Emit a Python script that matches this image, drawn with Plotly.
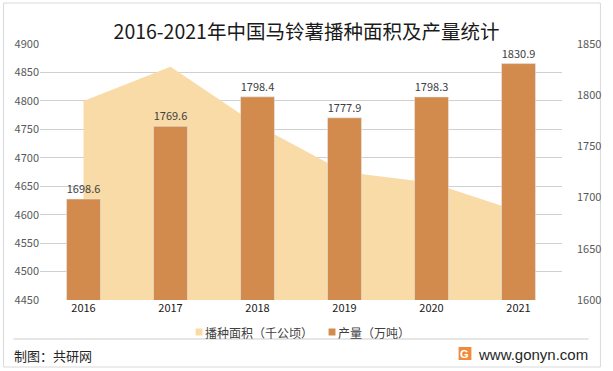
import plotly.graph_objects as go

years = ["2016", "2017", "2018", "2019", "2020", "2021"]
area_vals = [4800, 4860, 4757, 4675, 4656, 4606]
output_vals = [1698.6, 1769.6, 1798.4, 1777.9, 1798.3, 1830.9]
area_name = "播种面积（千公顷）"
output_name = "产量（万吨）"
left_ticks = [4450, 4500, 4550, 4600, 4650, 4700, 4750, 4800, 4850, 4900]
right_ticks = [1600, 1650, 1700, 1750, 1800, 1850]

AREA_C = "#F8DBA6"
BAR_C = "#D38B4D"
FONT = "Noto Sans CJK SC, Microsoft YaHei, sans-serif"

W, H = 613, 371
L, R, T, B = 40, 43, 44, 71
PW = W - L - R
PH = H - T - B


def px(x):
    return (x - L) / PW


def py(y):
    return (H - B - y) / PH


fig = go.Figure()

fig.add_trace(go.Scatter(
    x=years, y=area_vals, mode="none", fill="tozeroy",
    fillcolor=AREA_C, name=area_name, showlegend=False,
    hoverinfo="skip", yaxis="y"))

fig.add_trace(go.Bar(
    x=years, y=output_vals, marker_color=BAR_C, name=output_name,
    text=[f"{v:.1f}" for v in output_vals], textposition="outside",
    textfont=dict(size=11, color="#404040", family=FONT),
    cliponaxis=False, showlegend=False, yaxis="y2"))

shapes = [
    dict(type="rect", xref="paper", yref="paper",
         x0=px(3), x1=px(609), y0=py(3), y1=py(367),
         line=dict(color="#D9D9D9", width=1), fillcolor="rgba(0,0,0,0)", layer="below"),
    dict(type="line", xref="paper", yref="paper",
         x0=px(13), x1=px(597), y0=py(339), y1=py(339),
         line=dict(color="#E6E6E6", width=2)),
    dict(type="rect", xref="paper", yref="paper",
         x0=px(465), x1=px(478), y0=py(347), y1=py(360),
         line=dict(width=0), fillcolor="#F08A3C"),
    # legend swatches
    dict(type="rect", xref="paper", yref="paper",
         x0=px(198), x1=px(205), y0=py(328.5), y1=py(335.5),
         line=dict(width=0), fillcolor=AREA_C),
    dict(type="rect", xref="paper", yref="paper",
         x0=px(333), x1=px(340), y0=py(328.5), y1=py(335.5),
         line=dict(width=0), fillcolor=BAR_C),
]

annotations = [
    dict(text=area_name, xref="paper", yref="paper", x=px(206), y=py(332),
         xanchor="left", yanchor="middle", showarrow=False,
         font=dict(size=12, color="#404040", family=FONT)),
    dict(text=output_name, xref="paper", yref="paper", x=px(341), y=py(332),
         xanchor="left", yanchor="middle", showarrow=False,
         font=dict(size=12, color="#404040", family=FONT)),
    dict(text="制图：共研网", xref="paper", yref="paper", x=px(12), y=py(355),
         xanchor="left", yanchor="middle", showarrow=False,
         font=dict(size=13, color="#262626", family=FONT)),
    dict(text="www.gonyn.com", xref="paper", yref="paper", x=px(598), y=py(354),
         xanchor="right", yanchor="middle", showarrow=False,
         font=dict(size=15, color="#262626", family="Arial, Liberation Sans, sans-serif")),
    dict(text="<b>G</b>", xref="paper", yref="paper", x=px(471.5), y=py(353.5),
         xanchor="center", yanchor="middle", showarrow=False,
         font=dict(size=11, color="white", family="Arial, sans-serif")),
]

fig.update_layout(
    width=W, height=H,
    margin=dict(l=L, r=R, t=T, b=B),
    paper_bgcolor="white", plot_bgcolor="white",
    font=dict(family=FONT, color="#595959", size=11),
    showlegend=False,
    title=dict(text="2016-2021年中国马铃薯播种面积及产量统计",
               x=0.5, xref="container", xanchor="center",
               y=1 - 32.5 / H, yref="container", yanchor="middle",
               font=dict(size=19.5, color="#1a1a1a", family=FONT)),
    bargap=0.61,
    xaxis=dict(type="category", showgrid=False, zeroline=False,
               showline=False, ticks="",
               tickfont=dict(size=11, color="#1a1a1a", family=FONT)),
    yaxis=dict(range=[4450, 4900], tickvals=left_ticks, showgrid=True,
               gridcolor="#D0D0D0", gridwidth=1, zeroline=False,
               showline=False, ticklabelstandoff=0,
               tickfont=dict(size=11, color="#595959")),
    yaxis2=dict(range=[1600, 1850], tickvals=right_ticks, overlaying="y",
                side="right", showgrid=False, zeroline=False, showline=False,
                ticklabelstandoff=14,
                tickfont=dict(size=11, color="#595959")),
    shapes=shapes,
    annotations=annotations,
)

fig.write_html("out.html", config={"displayModeBar": False},
               post_script="document.body.style.margin='0';document.body.style.overflow='hidden';")
